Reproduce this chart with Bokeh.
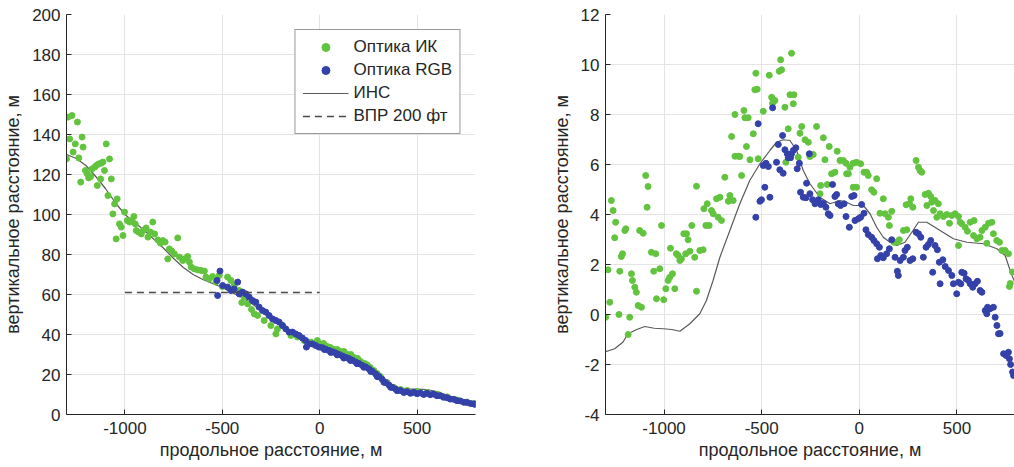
from bokeh.plotting import figure
from bokeh.layouts import row
from bokeh.models import Range1d, FixedTicker, Legend, LegendItem
from bokeh.embed import file_html
from bokeh.resources import INLINE

# ---------------- data: left panel ----------------
ir_left_x = [-1300, -1292, -1272, -1284, -1266, -1255, -1244, -1237, -1227, -1220, -1215, -1203, -1193, -1186,
             -1176, -1169, -1155, -1147, -1135, -1121, -1113, -1142, -1125, -1105, -1096, -1087, -1079, -1070,
             -1062, -1053, -1045, -1040, -1028, -1019, -1010, -1002, -988, -976, -964, -954, -947, -942, -930,
             -916, -903, -891, -882, -869, -857, -848, -831, -818, -806, -794, -780, -772, -760, -746, -729,
             -720, -703, -695, -678, -669, -660, -643, -626, -609, -592, -584, -567, -550, -533, -516, -500,
             -473, -456, -439, -413, -400, -387, -370, -350, -336, -319, -285, -251, -217, -191, -225, -148,
             -114, -80, -46, -12, 5, 20, 39, 55, 73, 90, 108, 125, 142, 160, 176, 195, 210, 230, 244, 260,
             278, 295, 312, 346, 381, 415, 449, 500, 551, 603, 654, 705, 756, 799]
ir_left_y = [127.8, 148.7, 149.5, 137.8, 131.2, 135.3, 146.2, 128.3, 116.2, 138.7, 133.7, 122.0, 120.3, 118.3,
             119.0, 122.8, 123.7, 124.5, 125.3, 125.7, 126.2, 114.5, 117.8, 122.0, 135.3, 109.5, 127.8, 117.8,
             100.3, 105.3, 87.8, 107.8, 95.3, 93.7, 89.5, 101.2, 97.0, 96.2, 97.0, 99.0, 95.3, 92.0, 91.2,
             90.3, 92.3, 93.3, 88.7, 91.2, 96.2, 90.3, 87.3, 85.7, 87.0, 86.2, 77.8, 82.8, 81.7, 80.3, 88.3,
             78.7, 77.0, 77.8, 79.0, 76.2, 73.7, 72.8, 72.3, 72.0, 71.7, 68.7, 67.8, 69.0, 66.2, 69.5, 64.0,
             68.7, 67.0, 64.5, 62.0, 56.0, 58.7, 55.3, 52.5, 50.3, 49.5, 47.0, 44.5, 42.8, 44.5, 40.3, 39.5,
             38.7, 37.0, 36.2, 37.0, 35.3, 35.5, 34.0, 33.5, 32.5, 32.5, 31.5, 31.5, 30.0, 30.0, 28.5, 28.0,
             26.5, 25.5, 24.8, 23.5, 22.0, 20.5, 19.0, 16.0, 13.5, 12.5, 12.0, 11.5, 11.0, 10.2, 8.8, 7.3,
             6.2, 5.6]

rgb_left_x = [-512, -527, -524, -498, -473, -456, -439, -421, -413, -396, -379, -362, -345, -328, -311, -294,
              -277, -260, -242, -225, -208, -191, -174, -157, -140, -123, -106, -89, -72, -68, -55, -38, -21,
              -4, 14, 24, 31, 48, 57, 65, 82, 90, 99, 116, 124, 133, 150, 158, 167, 184, 192, 201, 218, 227,
              236, 253, 262, 270, 287, 296, 304, 321, 330, 338, 355, 364, 372, 390, 398, 415, 432, 449, 466,
              483, 500, 517, 534, 551, 568, 585, 602, 619, 636, 654, 670, 688, 705, 722, 740, 756, 775, 790,
              800]
rgb_left_y = [71.7, 67.0, 59.5, 64.5, 63.7, 62.0, 62.8, 66.2, 60.3, 61.2, 60.3, 58.7, 57.0, 56.2, 53.7, 52.0,
              51.2, 49.5, 47.8, 47.0, 46.2, 44.5, 42.8, 41.2, 41.2, 40.3, 39.5, 38.3, 37.0, 33.7, 35.3, 35.3,
              34.5, 33.7, 33.4, 32.5, 32.6, 32.0, 31.0, 31.4, 30.8, 29.8, 30.0, 29.3, 28.2, 28.6, 28.0, 27.0,
              27.2, 26.3, 25.4, 25.5, 24.6, 23.6, 23.8, 22.8, 21.5, 21.6, 20.3, 18.9, 19.0, 17.6, 16.1, 16.0,
              14.8, 13.6, 13.6, 12.7, 11.9, 12.0, 11.0, 11.4, 10.6, 11.1, 10.4, 10.8, 10.0, 10.6, 9.9, 10.2,
              9.4, 9.4, 8.6, 8.4, 7.7, 7.6, 6.9, 6.8, 6.1, 6.0, 5.5, 5.3, 5.0]

ins_left_x = [-1300, -1250, -1200, -1150, -1100, -1050, -1000, -950, -900, -850, -800, -750, -700, -650,
              -600, -550, -500, -450, -400, -350, -300, -250, -200, -150, -100, -50, 0, 50, 100, 150, 200,
              250, 300, 350, 400, 450, 500, 550, 600, 650, 700, 750, 800]
ins_left_y = [130.0, 128.0, 124.5, 119.0, 113.0, 106.0, 100.0, 96.0, 92.0, 87.5, 83.0, 78.0, 73.5, 70.0,
              67.5, 65.5, 63.5, 61.0, 58.5, 55.5, 52.0, 48.0, 44.5, 41.0, 38.5, 36.0, 34.5, 32.5, 30.5, 28.5,
              26.3, 23.5, 20.0, 16.0, 13.5, 12.8, 12.7, 12.5, 11.5, 9.8, 8.2, 6.8, 5.5]

dh_x = [-1000, 0]
dh_y = [61, 61]

# ---------------- data: right panel ----------------
ir_right_x = [-1299, -1287, -1278, -1270, -1261, -1253, -1248, -1231, -1227, -1219, -1213, -1201, -1196,
              -1184, -1176, -1167, -1162, -1150, -1142, -1133, -1116, -1125, -1107, -1094, -1082, -1087,
              -1065, -1043, -1053, -1039, -1022, -1013, -1002, -991, -979, -971, -967, -957, -945, -937,
              -928, -919, -911, -899, -885, -889, -877, -868, -858, -843, -834, -834, -817, -800, -796,
              -786, -769, -779, -757, -748, -731, -723, -714, -706, -689, -671, -663, -654, -646, -637,
              -620, -612, -637, -603, -591, -586, -569, -578, -560, -543, -535, -523, -530, -518, -492,
              -461, -449, -441, -432, -444, -410, -398, -403, -381, -376, -364, -355, -335, -347, -338,
              -313, -304, -295, -278, -261, -253, -236, -219, -201, -198, -184, -176, -164, -154, -142,
              -125, -113, -99, -82, -68, -65, -56, -48, -31, -14, 7, -31, -14, 24, 38, 46, 63, 75, 89, 106,
              123, 132, 149, 166, 154, 178, 195, 205, 226, 243, 240, 257, 264, 274, 291, 303, 311, 320, 337,
              354, 366, 346, 371, 388, 405, 380, 397, 414, 431, 448, 462, 474, 491, 508, 508, 517, 525, 542,
              554, 568, 588, 585, 602, 619, 628, 645, 653, 662, 679, 687, 704, 718, 730, 747, 764, 769, 773,
              785]
ir_right_y = [-0.11, 1.79, 0.49, 4.56, 4.16, 3.07, 3.69, 0.0, 1.73, 2.32, 2.43, 3.36, 3.43, -0.8, -0.11,
              1.63, 1.36, 1.09, 0.89, 0.36, 0.29, 3.36, 3.25, 5.56, 5.12, 4.29, 2.49, 2.43, 1.73, 0.63, 1.83,
              3.56, 0.59, 1.03, 1.36, 1.49, 2.65, 1.63, 1.03, 2.43, 2.36, 2.16, 2.23, 3.23, 3.23, 2.43, 2.99,
              2.53, 3.56, 2.29, 0.93, 5.13, 2.56, 2.59, 4.23, 3.56, 3.56, 4.43, 4.16, 4.03, 4.63, 3.89, 4.69,
              3.76, 5.49, 4.53, 4.76, 7.12, 4.56, 6.33, 6.33, 6.32, 8.0, 5.56, 8.16, 7.87, 7.87, 6.72, 6.19,
              7.23, 8.99, 9.01, 9.65, 6.23, 8.13, 9.57, 8.69, 8.59, 8.56, 8.45, 9.73, 9.79, 10.19, 8.29,
              6.09, 7.43, 8.79, 8.79, 10.45, 8.43, 6.29, 7.25, 7.52, 6.99, 6.89, 6.32, 6.4, 7.52, 4.83, 5.16,
              7.07, 6.19, 5.2, 6.72, 5.63, 5.69, 6.53, 6.16, 6.16, 6.05, 5.63, 5.63, 5.89, 6.05, 6.09, 6.03,
              5.09, 5.09, 5.69, 5.69, 5.56, 4.99, 4.89, 5.43, 4.05, 4.63, 4.03, 3.89, 4.13, 3.56, 2.89, 2.89,
              2.99, 3.36, 3.39, 4.39, 4.43, 4.63, 4.29, 6.16, 5.89, 5.76, 5.69, 4.8, 4.85, 4.72, 4.36, 4.49,
              4.56, 4.43, 4.16, 3.89, 4.03, 3.92, 4.0, 3.65, 3.96, 4.03, 3.92, 2.76, 3.69, 3.63, 3.49, 3.33,
              3.69, 3.76, 3.16, 3.03, 3.09, 3.36, 3.49, 2.85, 3.65, 3.69, 3.23, 2.96, 2.89, 2.56, 2.56, 2.43,
              1.12, 1.24, 1.7]

rgb_right_x = [-530, -518, -509, -501, -492, -478, -466, -484, -458, -444, -424, -415, -407, -390, -393,
               -381, -369, -355, -347, -338, -325, -364, -352, -318, -307, -301, -287, -273, -270, -256, -253,
               -239, -227, -210, -198, -184, -171, -159, -150, -137, -125, -116, -108, -96, -78, -68, -51, -39,
               -27, -22, -5, 7, 12, 24, 34, 46, 63, 75, 89, 103, 93, 110, 123, 140, 154, 166, 183, 195, 200,
               209, 226, 234, 246, 260, 274, 291, 303, 315, 328, 342, 354, 366, 376, 388, 400, 410, 428, 414,
               440, 457, 474, 482, 499, 508, 520, 525, 537, 547, 559, 568, 581, 593, 605, 619, 628, 645, 657,
               670, 687, 653, 696, 705, 713, 721, 739, 752, 764, 769, 775, 785, 790]
rgb_right_y = [3.89, 7.63, 4.53, 4.59, 5.96, 6.05, 5.92, 5.09, 4.69, 8.27, 6.09, 6.8, 5.79, 5.65, 7.16,
               6.59, 6.43, 6.36, 6.43, 6.56, 6.67, 6.27, 6.27, 5.83, 6.05, 4.89, 4.69, 4.67, 5.25, 6.43, 4.83,
               4.59, 4.43, 4.59, 4.4, 4.45, 4.29, 4.03, 3.96, 5.2, 4.72, 4.8, 4.43, 4.36, 4.43, 3.92, 3.49,
               4.72, 4.76, 3.76, 3.83, 3.89, 4.4, 4.05, 3.39, 3.2, 3.09, 2.96, 2.83, 2.69, 2.23, 2.36, 2.27,
               2.43, 2.63, 2.99, 2.29, 1.73, 1.56, 2.16, 2.29, 2.56, 2.69, 2.16, 2.23, 3.29, 3.23, 3.09, 2.29,
               2.69, 2.8, 2.96, 1.69, 2.76, 2.59, 2.09, 2.19, 1.23, 1.92, 1.76, 1.56, 1.23, 0.83, 1.29, 1.23,
               1.69, 1.65, 1.43, 1.36, 1.23, 1.09, 1.23, 1.33, 0.96, 0.89, 0.16, 0.29, 0.23, 0.29, 0.03,
               -0.11, -0.44, -0.77, -0.76, -1.57, -1.64, -1.51, -1.77, -2.0, -2.3, -2.44]

ins_right_x = [-1304, -1253, -1210, -1185, -1140, -1099, -1050, -1005, -960, -919, -868, -817, -783, -749,
               -714, -663, -612, -561, -509, -458, -424, -390, -355, -321, -287, -253, -202, -150, -99, -65,
               -31, 21, 55, 89, 123, 157, 192, 234, 269, 303, 346, 414, 482, 551, 636, 705, 747, 773, 800]
ins_right_y = [-1.5, -1.37, -1.1, -0.77, -0.6, -0.48, -0.55, -0.57, -0.6, -0.67, -0.37, 0.03, 0.56, 1.36,
               2.29, 3.36, 4.43, 5.36, 6.03, 6.56, 6.89, 6.99, 6.96, 6.56, 5.76, 5.23, 4.69, 4.43, 4.56, 4.49,
               4.36, 4.36, 4.03, 3.49, 3.09, 2.89, 2.76, 2.89, 3.29, 3.69, 3.69, 3.36, 3.03, 2.89, 2.83, 2.63,
               2.36, 1.76, 1.2]

x_ticks = [-1000, -500, 0, 500]
x_tick_labels = ["-1000", "-500", "0", "500"]
y_ticks_left = [0, 20, 40, 60, 80, 100, 120, 140, 160, 180, 200]
y_ticks_right = [-4, -2, 0, 2, 4, 6, 8, 10, 12]
y_tick_labels_right = ["-4", "-2", "0", "2", "4", "6", "8", "10", "12"]

x_title = "продольное расстояние, м"
y_title = "вертикальное расстояние, м"
legend_labels = ["Оптика ИК", "Оптика RGB", "ИНС", "ВПР 200 фт"]

GREEN = "#62c43e"
BLUE = "#3441a8"
GREY = "#5a5a5a"
FONT = "Liberation Sans"
TXT = "#262626"


def style(p, yticks, ylabels=None):
    p.xaxis.ticker = FixedTicker(ticks=x_ticks)
    p.xaxis.major_label_overrides = {t: l for t, l in zip(x_ticks, x_tick_labels)}
    p.yaxis.ticker = FixedTicker(ticks=yticks)
    if ylabels:
        p.yaxis.major_label_overrides = {t: l for t, l in zip(yticks, ylabels)}
    for ax in (p.xaxis, p.yaxis):
        ax.major_label_text_font = FONT
        ax.major_label_text_font_size = "17px"
        ax.major_label_text_color = TXT
        ax.axis_label_text_font = FONT
        ax.axis_label_text_font_size = "18px"
        ax.axis_label_text_font_style = "normal"
        ax.axis_label_text_color = TXT
        ax.axis_line_color = TXT
        ax.major_tick_line_color = TXT
        ax.major_tick_in = 5
        ax.major_tick_out = 0
        ax.minor_tick_line_color = None
    p.xaxis.axis_label = x_title
    p.yaxis.axis_label = y_title
    p.xaxis.major_label_standoff = 7
    p.xaxis.axis_label_standoff = 3
    p.yaxis.major_label_standoff = 6
    p.yaxis.axis_label_standoff = 6
    p.grid.grid_line_color = "#e4e4e4"
    p.grid.grid_line_width = 1
    p.outline_line_color = None
    p.background_fill_color = "white"
    p.border_fill_color = "white"


# ---------------- left figure ----------------
p1 = figure(width=545, height=466, output_backend="svg", toolbar_location=None,
            x_range=Range1d(-1300, 800), y_range=Range1d(0, 200),
            min_border_left=64, min_border_right=70, min_border_top=14, min_border_bottom=52)
style(p1, y_ticks_left)
r_ins1 = p1.line(ins_left_x, ins_left_y, line_color=GREY, line_width=1.2)
r_ir1 = p1.scatter(ir_left_x, ir_left_y, marker="circle", size=6, fill_color=GREEN, line_color=GREEN)
r_rgb1 = p1.scatter(rgb_left_x, rgb_left_y, marker="circle", size=6, fill_color=BLUE, line_color=BLUE)
r_dh = p1.line(dh_x, dh_y, line_color="#4a4a4a", line_width=1.3, line_dash="7 5")

legend = Legend(items=[
    LegendItem(label=legend_labels[0], renderers=[r_ir1]),
    LegendItem(label=legend_labels[1], renderers=[r_rgb1]),
    LegendItem(label=legend_labels[2], renderers=[r_ins1]),
    LegendItem(label=legend_labels[3], renderers=[r_dh]),
], location="top_right")
legend.label_text_font = FONT
legend.label_text_font_size = "17px"
legend.label_text_color = TXT
legend.glyph_width = 46
legend.glyph_height = 20
legend.label_height = 20
legend.label_standoff = 5
legend.padding = 7
legend.spacing = 3
legend.margin = 15
legend.border_line_color = "#333333"
legend.border_line_width = 1
legend.background_fill_alpha = 1.0
p1.add_layout(legend)

# ---------------- right figure ----------------
p2 = figure(width=469, height=466, output_backend="svg", toolbar_location=None,
            x_range=Range1d(-1300, 795), y_range=Range1d(-4, 12),
            min_border_left=60, min_border_right=0, min_border_top=14, min_border_bottom=52)
style(p2, y_ticks_right, y_tick_labels_right)
p2.line(ins_right_x, ins_right_y, line_color=GREY, line_width=1.2)
p2.scatter(ir_right_x, ir_right_y, marker="circle", size=6, fill_color=GREEN, line_color=GREEN)
p2.scatter(rgb_right_x, rgb_right_y, marker="circle", size=6, fill_color=BLUE, line_color=BLUE)

layout = row(p1, p2)
open("out.html", "w").write(file_html(layout, INLINE))
